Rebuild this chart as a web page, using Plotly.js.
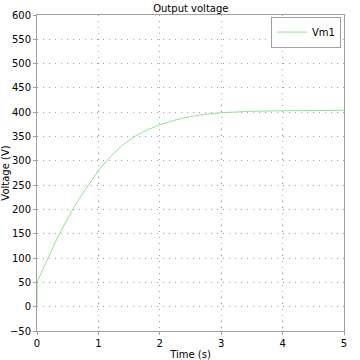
<!DOCTYPE html>
<html>
<head>
<meta charset="utf-8">
<script src="https://cdn.plot.ly/plotly-3.0.1.min.js"></script>
<style>html,body{margin:0;padding:0;background:#fff;}#chart{width:360px;height:360px;}</style>
</head>
<body>
<div id="chart"></div>
<script>
const timeS = [0, 0, 0.1, 0.2, 0.3, 0.4, 0.5, 0.6, 0.7, 0.8, 0.9, 1.0, 1.2, 1.4, 1.6, 1.8, 2.0, 2.25, 2.5, 2.75, 3.0, 3.5, 4.0, 4.5, 5.0];
const vm1 = [0, 50, 78, 106, 133, 158, 182, 204, 225, 244, 262, 280, 309, 333, 351, 364, 374, 384, 391, 396, 399, 402, 403, 404, 404];
const seriesName = 'Vm1';
const yTicks = [-50, 0, 50, 100, 150, 200, 250, 300, 350, 400, 450, 500, 550, 600];
const xTicks = [0, 1, 2, 3, 4, 5];

const font = {family: 'DejaVu Sans, sans-serif', size: 10, color: '#000'};
const axisCommon = {
  showline: true, mirror: true, linecolor: '#a0a0a0', linewidth: 1,
  ticks: 'outside', ticklen: 3, tickcolor: '#a0a0a0',
  showgrid: true, gridcolor: '#a0a0a0', gridwidth: 1, griddash: '1px,5px',
  zeroline: false, tickfont: font
};
Plotly.newPlot('chart', [{
  x: timeS, y: vm1, name: seriesName, type: 'scatter', mode: 'lines',
  line: {color: 'rgb(144,228,144)', width: 1}
}], {
  width: 360, height: 360,
  margin: {l: 37, r: 16, t: 15, b: 29},
  paper_bgcolor: '#fff', plot_bgcolor: '#fff',
  font: font,
  title: {text: 'Output voltage', font: {family: 'DejaVu Sans, sans-serif', size: 10, color: '#000'}, x: 0.53, xanchor: 'center', y: 0.985, yanchor: 'top'},
  showlegend: true,
  legend: {x: 0.99, y: 0.995, xanchor: 'right', yanchor: 'top', bordercolor: '#a0a0a0', borderwidth: 1, bgcolor: '#fff', font: font, itemwidth: 30, tracegroupgap: 0},
  xaxis: Object.assign({}, axisCommon, {range: [0, 5], tickvals: xTicks, title: {text: 'Time (s)', font: font, standoff: 2}}),
  yaxis: Object.assign({}, axisCommon, {range: [-50, 600], tickvals: yTicks, title: {text: 'Voltage (V)', font: font, standoff: 4}})
}, {displayModeBar: false, staticPlot: true});
</script>
</body>
</html>
